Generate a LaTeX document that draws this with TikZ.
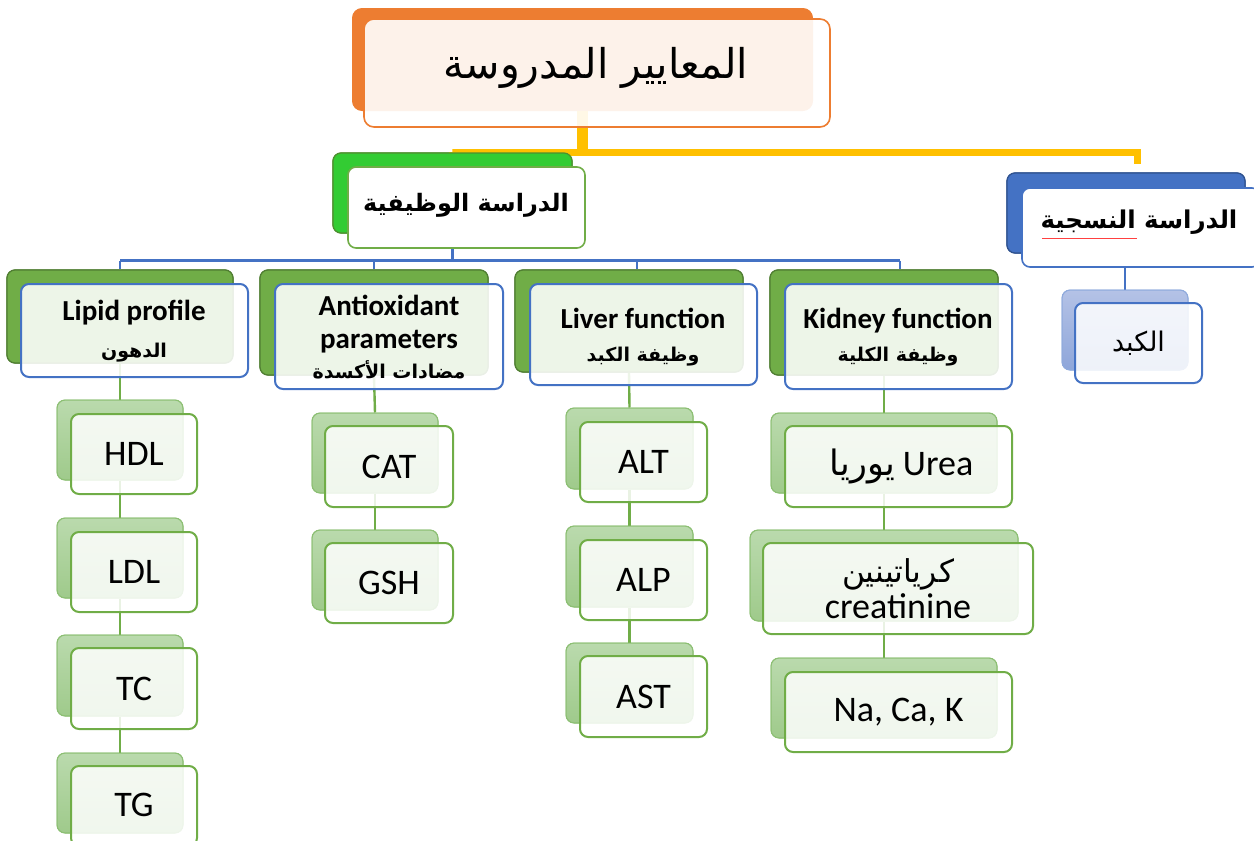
\documentclass[tikz,border=0pt]{standalone}
\usepackage{fontspec}
\setmainfont{Carlito}
\newfontfamily\arabicfont[Script=Arabic]{DejaVu Sans}
\TeXXeTstate=1
\usetikzlibrary{fit}
\newcommand\ar[1]{{\arabicfont\beginR #1\endR}}
\newcommand\catarfont{\fontsize{19}{22}\selectfont\bfseries}
\definecolor{orng}{HTML}{ED7D31}
\definecolor{yel}{HTML}{FFC000}
\definecolor{bgreen}{HTML}{33CC33}
\definecolor{bgreenD}{HTML}{4E8F2F}
\definecolor{grn}{HTML}{70AD47}
\definecolor{grnD}{HTML}{507E32}
\definecolor{blu}{HTML}{4472C4}
\definecolor{bluD}{HTML}{2F528F}
\definecolor{lgT}{HTML}{BADAAD}
\definecolor{lgB}{HTML}{9FCA8B}
\definecolor{lgD}{HTML}{8CBF73}
\definecolor{lbT}{HTML}{B4C2E6}
\definecolor{lbB}{HTML}{8EA6DA}
\definecolor{lbD}{HTML}{8FAADC}
\tikzset{
  base/.style={inner sep=0pt, rounded corners=8pt, align=center},
  topback/.style={base, fill=orng, draw=none, rounded corners=10pt},
  topfront/.style={base, draw=orng, line width=1.6pt, fill=white, fill opacity=0.9, text opacity=1, rounded corners=10pt},
  funcback/.style={base, fill=bgreen, draw=bgreenD, line width=1.2pt},
  funcfront/.style={base, fill=white, draw=grn, line width=1.6pt},
  histback/.style={base, fill=blu, draw=bluD, line width=1.2pt},
  histfront/.style={base, fill=white, draw=blu, line width=1.6pt},
  catback/.style={base, fill=grn, draw=grnD, line width=1.2pt},
  catfront/.style={base, fill=white, fill opacity=0.88, text opacity=1, draw=blu, line width=2pt},
  leafback/.style={base, top color=lgT, bottom color=lgB, draw=lgD, line width=1pt},
  leaffront/.style={base, fill=white, fill opacity=0.85, text opacity=1, draw=grn, line width=2pt},
  hleafback/.style={base, top color=lbT, bottom color=lbB, draw=lbD, line width=1pt},
  hleaffront/.style={base, fill=white, fill opacity=0.85, text opacity=1, draw=blu, line width=2pt},
  ylink/.style={draw=yel, line width=7pt},
  blink/.style={draw=blu, line width=2.4pt},
  glink/.style={draw=grn, line width=2.4pt},
  leaftext/.style={font=\fontsize{36}{40}\selectfont, align=center},
  cattext/.style={font=\fontsize{29}{33}\selectfont\bfseries, align=center},
}
\begin{document}
\begin{tikzpicture}[x=1pt,y=-1pt]
\useasboundingbox (0,0) rectangle (1254,841);
\clip (0,0) rectangle (1254,841);

% ---------- back boxes ----------
\node[topback, fit={(352,8)(813,111)}] (topB) {};
\node[funcback, fit={(333,153)(572,233)}] (funcB) {};
\node[histback, fit={(1007,173)(1245,253)}] (histB) {};
\node[catback, fit={(7,270)(233,363)}] (lipB) {};
\node[catback, fit={(260,270)(488,375)}] (antB) {};
\node[catback, fit={(515,270)(743,372)}] (livB) {};
\node[catback, fit={(770,270)(998,375)}] (kidB) {};
\node[hleafback, fit={(1062,290)(1188,370)}] (hlivB) {};
\node[leafback, fit={(57,400)(183,480)}] (hdlB) {};
\node[leafback, fit={(57,518)(183,598)}] (ldlB) {};
\node[leafback, fit={(57,635)(183,716)}] (tcB) {};
\node[leafback, fit={(57,753)(183,833)}] (tgB) {};
\node[leafback, fit={(312,413)(438,493)}] (catB) {};
\node[leafback, fit={(312,530)(438,610)}] (gshB) {};
\node[leafback, fit={(566,408)(693,489)}] (altB) {};
\node[leafback, fit={(566,526)(693,607)}] (alpB) {};
\node[leafback, fit={(566,643)(693,723)}] (astB) {};
\node[leafback, fit={(771,413)(997,493)}] (ureaB) {};
\node[leafback, fit={(750,530)(1018,621)}] (creaB) {};
\node[leafback, fit={(771,658)(997,738)}] (naB) {};

% ---------- connectors ----------
\coordinate (ybus) at (0,152.5);
\coordinate (yend) at (1137,164);
\draw[draw=yel, line width=11pt] (topB.south) -- (topB.south |- ybus);
\draw[ylink] (funcB.north) -- (funcB.north |- ybus) -| (yend);

\coordinate (bL) at (120,260.5);
\coordinate (bR) at (900,260.5);
\draw[blink] (bL) -- (bR);
\draw[blink] (funcB.south) -- (funcB.south |- bL);
\draw[blink] (lipB.north |- bL) -- (lipB.north);
\draw[blink] (antB.north |- bL) -- (antB.north);
\draw[blink] ([xshift=8pt]livB.north |- bL) -- ([xshift=8pt]livB.north);
\draw[blink] (bR) -- (bR |- kidB.north);
\draw[blink] (histB.south -| 1125,0) -- (hlivB.north -| 1125,0);

\draw[glink] (lipB.south) -- (hdlB.north);
\draw[glink] (hdlB.south) -- (ldlB.north);
\draw[glink] (ldlB.south) -- (tcB.north);
\draw[glink] (tcB.south) -- (tgB.north);
\draw[glink] (antB.south) -- (catB.north);
\draw[glink] (catB.south) -- (gshB.north);
\draw[glink] (livB.south) -- (altB.north);
\draw[glink] (altB.south) -- (alpB.north);
\draw[glink] (alpB.south) -- (astB.north);
\draw[glink] (kidB.south) -- (ureaB.north);
\draw[glink] (ureaB.south) -- (creaB.north);
\draw[glink] (creaB.south) -- (naB.north);

% back boxes drawn again over the connector ends
\foreach \n/\s in {topB/topback,funcB/funcback,histB/histback,lipB/catback,antB/catback,livB/catback,kidB/catback,hlivB/hleafback,
  hdlB/leafback,ldlB/leafback,tcB/leafback,tgB/leafback,catB/leafback,gshB/leafback,altB/leafback,alpB/leafback,astB/leafback,
  ureaB/leafback,creaB/leafback,naB/leafback}
  {\node[\s, fit=(\n), inner sep=-0.6pt] {};}

% ---------- front boxes ----------
\node[topfront, fit={(364,19)(830,127)}] (topF) {};
\node (topT) at (596,68) {\fontsize{41}{44}\selectfont\ar{المعايير المدروسة}};

\node[funcfront, fit={(348,167)(585,248)}] (funcF) {};
\node (funcT) at (466,205) {\fontsize{24}{28}\selectfont\arabicfont\bfseries\beginR الدراسة الوظيفية\endR};

\node[histfront, fit={(1022,188)(1260,267)}] (histF) {};
\node (histT) at (1139,222) {\fontsize{24.5}{28}\selectfont\arabicfont\bfseries\beginR الدراسة النسجية\endR};
\draw[red!75, line width=0.6pt] (1042,238) -- (1137,238);

\node[catfront, fit={(21,284)(248,377)}] (lipF) {};
\node[cattext] (lipT) at (134,331) {Lipid profile\\[4pt]{\catarfont\ar{الدهون}}};
\node[catfront, fit={(275,284)(503,389)}] (antF) {};
\node[cattext] (antT) at (389,337) {Antioxidant\\parameters\\[-3pt]{\catarfont\ar{مضادات الأكسدة}}};
\node[catfront, fit={(530,284)(757,385)}] (livF) {};
\node[cattext] (livT) at (643,337) {Liver function\\{\catarfont\ar{وظيفة الكبد}}};
\node[catfront, fit={(785,284)(1012,389)}] (kidF) {};
\node[cattext] (kidT) at (898,337) {Kidney function\\{\catarfont\ar{وظيفة الكلية}}};

\node[hleaffront, fit={(1075,303)(1202,383)}] (hlivF) {};
\node (hlivT) at (hlivF) {\fontsize{27}{30}\selectfont\ar{الكبد}};

\node[leaffront, fit={(71,414)(197,494)}] (hdlF) {};
\node[leaftext] at (hdlF) {HDL};
\node[leaffront, fit={(71,532)(197,612)}] (ldlF) {};
\node[leaftext] at (ldlF) {LDL};
\node[leaffront, fit={(71,648)(197,729)}] (tcF) {};
\node[leaftext] at (tcF) {TC};
\node[leaffront, fit={(71,766)(197,846)}] (tgF) {};
\node[leaftext] at (134,805) {TG};

\node[leaffront, fit={(325,426)(453,507)}] (catF) {};
\node[leaftext] at (catF) {CAT};
\node[leaffront, fit={(325,543)(453,623)}] (gshF) {};
\node[leaftext] at (gshF) {GSH};

\node[leaffront, fit={(580,422)(707,502)}] (altF) {};
\node[leaftext] at (altF) {ALT};
\node[leaffront, fit={(580,540)(707,620)}] (alpF) {};
\node[leaftext] at (alpF) {ALP};
\node[leaffront, fit={(580,656)(707,737)}] (astF) {};
\node[leaftext] at (astF) {AST};

\node[leaffront, fit={(785,426)(1012,507)}] (ureaF) {};
\node[leaftext] at ([xshift=3pt]ureaF.center) {{\fontsize{35}{38}\selectfont\ar{يوريا}} Urea};
\node[leaffront, fit={(763,543)(1033,634)}] (creaF) {};
\node[leaftext] at (creaF) {{\fontsize{31.5}{34}\selectfont\ar{كرياتينين}}\\[-4pt]creatinine};
\node[leaffront, fit={(785,672)(1012,752)}] (naF) {};
\node[leaftext] at (naF) {Na, Ca, K};
\end{tikzpicture}
\end{document}
